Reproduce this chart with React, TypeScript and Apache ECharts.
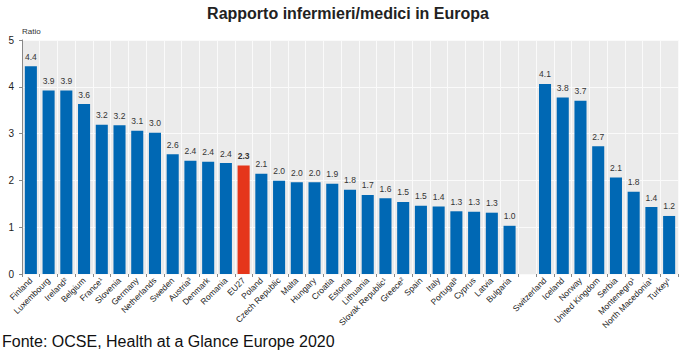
import React, { useEffect, useRef } from "react";
import * as echarts from "echarts";

const categories = [
  "Finland", "Luxembourg", "Ireland²", "Belgium", "France¹", "Slovenia", "Germany", "Netherlands",
  "Sweden", "Austria³", "Denmark", "Romania", "EU27", "Poland", "Czech Republic", "Malta",
  "Hungary", "Croatia", "Estonia", "Lithuania", "Slovak Republic¹", "Greece²", "Spain", "Italy",
  "Portugal³", "Cyprus", "Latvia", "Bulgaria", "", "Switzerland", "Iceland", "Norway",
  "United Kingdom", "Serbia", "Montenegro¹", "North Macedonia¹", "Turkey¹",
];

const values: (number | null)[] = [
  4.44, 3.92, 3.92, 3.63, 3.19, 3.18, 3.06, 3.02,
  2.56, 2.42, 2.4, 2.37, 2.32, 2.14, 1.99, 1.96,
  1.96, 1.93, 1.8, 1.69, 1.62, 1.54, 1.46, 1.44,
  1.34, 1.33, 1.31, 1.03, null, 4.06, 3.77, 3.7,
  2.73, 2.06, 1.76, 1.43, 1.24,
];

const highlight = "EU27";
const yTicks = [0, 1, 2, 3, 4, 5];

export default function App() {
  const ref = useRef<HTMLDivElement>(null);
  useEffect(() => {
    if (!ref.current) return;
    const chart = echarts.init(ref.current, undefined, { renderer: "svg" });
    const font = "Arial, 'Liberation Sans', sans-serif";
    chart.setOption({
      animation: false,
      textStyle: { fontFamily: font },
      title: {
        text: "Rapporto infermieri/medici in Europa",
        left: "center",
        top: 0,
        textStyle: { fontSize: 16, fontWeight: "bold", color: "#222", fontFamily: font },
      },
      graphic: [
        {
          type: "text",
          left: 2,
          top: 333,
          style: {
            text: "Fonte: OCSE, Health at a Glance Europe 2020",
            fontSize: 16,
            fill: "#111",
            fontFamily: font,
          },
        },
        {
          type: "text",
          left: 22,
          top: 27,
          style: { text: "Ratio", fontSize: 8, fill: "#333", fontFamily: font },
        },
      ],
      grid: {
        left: 22,
        right: 18,
        top: 40,
        bottom: 82,
        show: true,
        backgroundColor: "#ebebeb",
        borderWidth: 0,
      },
      xAxis: {
        type: "category",
        data: categories,
        axisLine: { show: false },
        axisTick: { show: true, length: 3, lineStyle: { color: "#888" } },
        axisLabel: {
          rotate: 45,
          interval: 0,
          fontSize: 8.5,
          color: "#222",
          margin: 5,
          fontFamily: font,
        },
        splitLine: { show: true, lineStyle: { color: "#fafafa", width: 1 } },
      },
      yAxis: {
        type: "value",
        min: yTicks[0],
        max: yTicks[yTicks.length - 1],
        interval: 1,
        axisLine: { show: true, lineStyle: { color: "#888" } },
        axisTick: { show: true, length: 3, lineStyle: { color: "#888" } },
        axisLabel: { fontSize: 10, color: "#222", margin: 8, fontFamily: font },
        splitLine: { show: true, lineStyle: { color: "#fafafa", width: 1 } },
      },
      series: [
        {
          type: "bar",
          barWidth: "68%",
          data: values.map((v, i) => {
            const isH = categories[i] === highlight;
            return {
              value: v,
              itemStyle: { color: isH ? "#e5361b" : "#0068b4" },
              label: {
                show: v !== null,
                position: "top",
                distance: 5,
                fontSize: 8.5,
                color: "#333",
                fontWeight: isH ? "bold" : "normal",
                fontFamily: font,
                formatter: (p: any) => (p.value == null ? "" : Number(p.value).toFixed(1)),
              },
            };
          }),
        },
      ],
    });
    return () => chart.dispose();
  }, []);
  return <div ref={ref} style={{ width: 696, height: 356, position: "absolute", left: 0, top: 0 }} />;
}
